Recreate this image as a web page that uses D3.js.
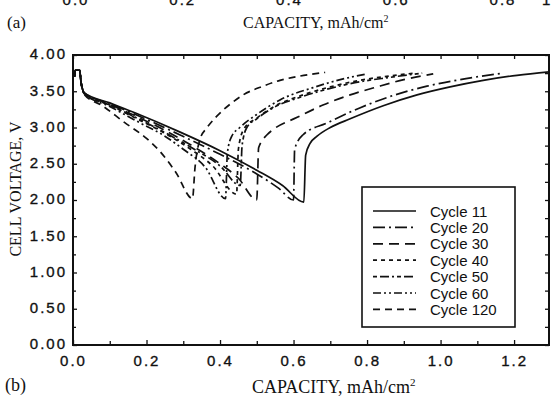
<!DOCTYPE html>
<html>
<head>
<meta charset="utf-8">
<script src="https://cdn.jsdelivr.net/npm/d3@7"></script>
<style>
  body { margin: 0; background: #fff; }
  svg { display: block; }
  .tick text { font-family: "Liberation Sans", Arial, sans-serif; font-size: 15px; letter-spacing: 2px; fill: #111; stroke: #111; stroke-width: 0.35px; }
  .serif { font-family: "Liberation Serif", "Times New Roman", serif; fill: #111; }
</style>
</head>
<body>
<div id="plot"></div>
<script>
const svgWidth = 552;
const svgHeight = 399;

// panel (b) data: capacity (mAh/cm2), cell voltage (V)
const startUp = [[0.004, 3.70], [0.006, 3.79], [0.018, 3.79], [0.022, 3.62], [0.027, 3.51]];

const cyc11 = [[0.03, 3.48], [0.10, 3.34], [0.17, 3.20], [0.29, 2.94], [0.40, 2.68], [0.50, 2.41], [0.57, 2.20], [0.628, 1.97],
  [0.633, 2.62], [0.645, 2.78], [0.664, 2.88], [0.70, 3.00], [0.754, 3.12], [0.844, 3.30], [0.936, 3.45], [1.026, 3.56], [1.116, 3.65], [1.208, 3.72], [1.30, 3.77]];
const cyc20 = [[0.03, 3.48], [0.10, 3.33], [0.17, 3.18], [0.29, 2.90], [0.40, 2.63], [0.50, 2.36], [0.56, 2.16], [0.60, 2.00],
  [0.603, 2.70], [0.626, 2.90], [0.69, 3.06], [0.78, 3.27], [0.87, 3.44], [0.963, 3.57], [1.053, 3.66], [1.17, 3.75]];
const cyc30 = [[0.03, 3.48], [0.10, 3.32], [0.17, 3.16], [0.25, 2.96], [0.33, 2.73], [0.40, 2.50], [0.45, 2.30], [0.50, 2.00],
  [0.505, 2.72], [0.528, 2.90], [0.544, 2.97], [0.61, 3.14], [0.68, 3.31], [0.754, 3.45], [0.827, 3.56], [0.90, 3.66], [0.98, 3.74]];
const cyc40 = [[0.03, 3.47], [0.10, 3.31], [0.17, 3.13], [0.25, 2.92], [0.32, 2.70], [0.38, 2.47], [0.445, 2.08],
  [0.45, 2.70], [0.465, 2.98], [0.50, 3.13], [0.544, 3.28], [0.62, 3.44], [0.70, 3.56], [0.78, 3.65], [0.86, 3.71], [0.93, 3.75]];
const cyc50 = [[0.03, 3.47], [0.10, 3.31], [0.17, 3.14], [0.25, 2.93], [0.33, 2.70], [0.40, 2.47], [0.455, 2.20],
  [0.46, 2.75], [0.473, 3.00], [0.50, 3.12], [0.544, 3.27], [0.62, 3.42], [0.70, 3.54], [0.78, 3.63], [0.86, 3.69], [0.95, 3.75]];
const cyc60 = [[0.03, 3.47], [0.10, 3.29], [0.18, 3.07], [0.25, 2.88], [0.30, 2.70], [0.36, 2.45], [0.415, 2.02],
  [0.42, 2.65], [0.432, 2.88], [0.454, 3.00], [0.50, 3.18], [0.563, 3.38], [0.653, 3.55], [0.727, 3.66], [0.80, 3.74]];
const cyc120 = [[0.03, 3.46], [0.08, 3.30], [0.14, 3.07], [0.20, 2.85], [0.24, 2.65], [0.28, 2.38], [0.325, 2.02],
  [0.332, 2.45], [0.345, 2.83], [0.365, 3.00], [0.39, 3.15], [0.427, 3.32], [0.463, 3.45], [0.517, 3.57], [0.563, 3.65], [0.618, 3.71], [0.686, 3.76]];

const cycleNames = ["Cycle 11", "Cycle 20", "Cycle 30", "Cycle 40", "Cycle 50", "Cycle 60", "Cycle 120"];
const cycleData = [cyc11, cyc20, cyc30, cyc40, cyc50, cyc60, cyc120];
const cycleDash = ["none", "12,4,2,4", "10,6", "4,4", "4,3,9,3,2,3", "8,3,2,3,2,3", "7,5"];

const xMajor = [0.0, 0.2, 0.4, 0.6, 0.8, 1.0, 1.2];
const xMinor = [0.1, 0.3, 0.5, 0.7, 0.9, 1.1];
const yMajor = [0, 0.5, 1, 1.5, 2, 2.5, 3, 3.5, 4];
const yMinor = [0.25, 0.75, 1.25, 1.75, 2.25, 2.75, 3.25, 3.75];

// panel (a) remnants at the top (only the lower edge of its tick labels shows)
const topTicks = ["0.0", "0.2", "0.4", "0.6", "0.8"];
const topLastLabel = "1";

const plot = {left: 73, right: 549, top: 55, bottom: 345};

const svg = d3.select("#plot")
  .append("svg")
  .attr("width", svgWidth)
  .attr("height", svgHeight);

const x = d3.scaleLinear().domain([0, 1.295]).range([plot.left, plot.right]);
const y = d3.scaleLinear().domain([0, 4]).range([plot.bottom, plot.top]);

// ---- bottom of panel (a)
const xa = d3.scalePoint().domain(topTicks).range([76, 503]);
const topText = (sel) => sel
  .style("font-family", "Liberation Sans, Arial, sans-serif")
  .style("font-size", "15px")
  .style("letter-spacing", "2px")
  .style("fill", "#111").style("stroke", "#111").style("stroke-width", "0.35px");

svg.append("g")
  .selectAll("text")
  .data(topTicks)
  .enter()
  .append("text")
    .attr("x", d => xa(d))
    .attr("y", 5)
    .attr("text-anchor", "middle")
    .call(topText)
    .text(d => d);

svg.append("text")
  .attr("x", 542).attr("y", 5)
  .call(topText)
  .text(topLastLabel);

svg.append("text").attr("class", "serif")
  .attr("x", 7).attr("y", 28)
  .style("font-size", "17px")
  .text("(a)");

const capTop = svg.append("text").attr("class", "serif")
  .attr("x", 243).attr("y", 28)
  .style("font-size", "16px");
capTop.append("tspan").text("CAPACITY, mAh/cm");
capTop.append("tspan").attr("dy", -6).style("font-size", "10px").text("2");

// ---- panel (b) axes
svg.append("g")
  .attr("class", "axis")
  .attr("transform", "translate(0," + plot.bottom + ")")
  .call(d3.axisBottom(x).tickValues(xMajor).tickSizeInner(-5).tickSizeOuter(0).tickPadding(17).tickFormat(d3.format(".1f")));

svg.append("g")
  .attr("class", "axis")
  .attr("transform", "translate(0," + plot.bottom + ")")
  .call(d3.axisBottom(x).tickValues(xMinor).tickSizeInner(-4).tickSizeOuter(0).tickFormat(""));

svg.append("g")
  .attr("class", "axis")
  .attr("transform", "translate(0," + plot.top + ")")
  .call(d3.axisTop(x).tickValues(xMajor.concat(xMinor)).tickSizeInner(-4).tickSizeOuter(0).tickFormat(""));

svg.append("g")
  .attr("class", "axis")
  .attr("transform", "translate(" + plot.left + ",0)")
  .call(d3.axisLeft(y).tickValues(yMajor).tickSizeInner(-4).tickSizeOuter(0).tickPadding(6).tickFormat(d3.format(".2f")));

svg.append("g")
  .attr("class", "axis")
  .attr("transform", "translate(" + plot.left + ",0)")
  .call(d3.axisLeft(y).tickValues(yMinor).tickSizeInner(-3).tickSizeOuter(0).tickFormat(""));

svg.append("g")
  .attr("class", "axis")
  .attr("transform", "translate(" + plot.right + ",0)")
  .call(d3.axisRight(y).tickValues(yMajor.concat(yMinor)).tickSizeInner(-4).tickSizeOuter(0).tickFormat(""));

svg.selectAll(".axis .domain").remove();
svg.selectAll(".axis .tick line").attr("stroke", "#111").attr("stroke-width", 1.3);
svg.selectAll(".axis .tick text").attr("dy", null).attr("dominant-baseline", "middle");

// frame
svg.append("rect")
  .attr("x", plot.left).attr("y", plot.top)
  .attr("width", plot.right - plot.left).attr("height", plot.bottom - plot.top)
  .attr("fill", "none").attr("stroke", "#111").attr("stroke-width", 2);

// axis titles
const capBot = svg.append("text").attr("class", "serif")
  .attr("x", 252).attr("y", 393)
  .style("font-size", "18px");
capBot.append("tspan").text("CAPACITY, mAh/cm");
capBot.append("tspan").attr("dy", -7).style("font-size", "11px").text("2");

svg.append("text").attr("class", "serif")
  .attr("x", 5).attr("y", 391)
  .style("font-size", "18px")
  .text("(b)");

svg.append("text").attr("class", "serif")
  .attr("transform", "translate(21,189) rotate(-90)")
  .attr("text-anchor", "middle")
  .style("font-size", "16px")
  .text("CELL VOLTAGE, V");

// curves
svg.append("clipPath").attr("id", "clip")
  .append("rect")
  .attr("x", plot.left).attr("y", plot.top)
  .attr("width", plot.right - plot.left).attr("height", plot.bottom - plot.top);

const line = d3.line()
  .x(d => x(d[0]))
  .y(d => y(d[1]))
  .curve(d3.curveMonotoneX);

svg.append("g")
  .attr("clip-path", "url(#clip)")
  .selectAll("path")
  .data(cycleData)
  .enter()
  .append("path")
    .attr("d", d => line(startUp.concat(d)))
    .attr("fill", "none")
    .attr("stroke", "#111")
    .attr("stroke-width", 1.7)
    .attr("stroke-dasharray", (d, i) => cycleDash[i]);

// legend
const legend = {x: 362, y: 187, w: 153, h: 140, row: 16.4, first: 211};
svg.append("rect")
  .attr("x", legend.x).attr("y", legend.y)
  .attr("width", legend.w).attr("height", legend.h)
  .attr("fill", "#fff").attr("stroke", "#111").attr("stroke-width", 1.6);

const items = svg.append("g")
  .selectAll("g")
  .data(cycleNames)
  .enter()
  .append("g")
    .attr("transform", (d, i) => "translate(0," + (legend.first + i * legend.row) + ")");

items.append("line")
  .attr("x1", 373).attr("x2", 416)
  .attr("stroke", "#111").attr("stroke-width", 1.7)
  .attr("stroke-dasharray", (d, i) => cycleDash[i]);

items.append("text")
  .attr("x", 430).attr("y", 5.5)
  .style("font-family", "Liberation Sans, Arial, sans-serif")
  .style("font-size", "15px")
  .style("fill", "#111")
  .text(d => d);
</script>
</body>
</html>
